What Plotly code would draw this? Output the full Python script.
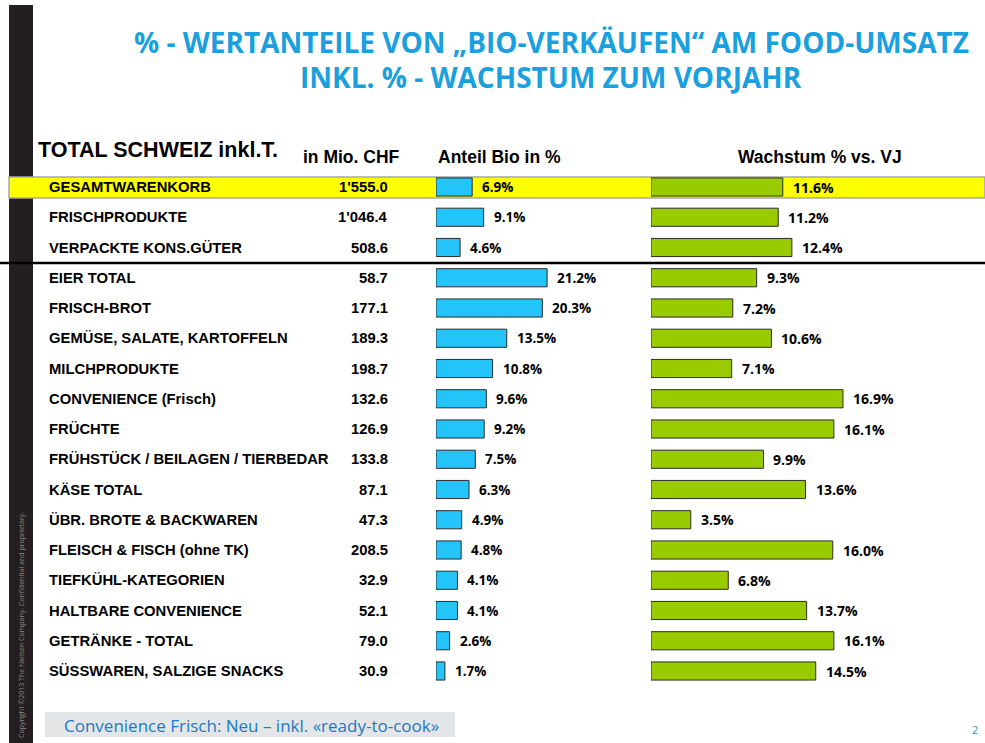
import plotly.graph_objects as go

W, H = 985, 743

categories = [
    "GESAMTWARENKORB", "FRISCHPRODUKTE", "VERPACKTE KONS.GÜTER",
    "EIER TOTAL", "FRISCH-BROT", "GEMÜSE, SALATE, KARTOFFELN", "MILCHPRODUKTE",
    "CONVENIENCE (Frisch)", "FRÜCHTE", "FRÜHSTÜCK / BEILAGEN / TIERBEDAR",
    "KÄSE TOTAL", "ÜBR. BROTE & BACKWAREN", "FLEISCH & FISCH (ohne TK)",
    "TIEFKÜHL-KATEGORIEN", "HALTBARE CONVENIENCE", "GETRÄNKE - TOTAL",
    "SÜSSWAREN, SALZIGE SNACKS",
]
umsatz_mio_chf = ["1'555.0", "1'046.4", "508.6", "58.7", "177.1", "189.3", "198.7",
                  "132.6", "126.9", "133.8", "87.1", "47.3", "208.5", "32.9", "52.1",
                  "79.0", "30.9"]
anteil_bio = [6.9, 9.1, 4.6, 21.2, 20.3, 13.5, 10.8, 9.6, 9.2, 7.5, 6.3, 4.9, 4.8,
              4.1, 4.1, 2.6, 1.7]
wachstum = [11.6, 11.2, 12.4, 9.3, 7.2, 10.6, 7.1, 16.9, 16.1, 9.9, 13.6, 3.5, 16.0,
            6.8, 13.7, 16.1, 14.5]

title_lines = ["% - WERTANTEILE VON „BIO-VERKÄUFEN“ AM FOOD-UMSATZ",
               "INKL. % - WACHSTUM ZUM VORJAHR"]


def X(px):
    return px / W


def Y(py):
    return 1 - py / H


n = len(categories)
row_top, row_bot = 187, 671
step = (row_bot - row_top) / (n - 1)
y_dom = [Y(row_bot + step / 2), Y(row_top - step / 2)]

fig = go.Figure()

fig.add_trace(go.Bar(
    x=anteil_bio, y=categories, orientation="h", xaxis="x", yaxis="y",
    marker=dict(color="#22c4fa", line=dict(color="#2b2b2b", width=1)),
    width=0.6, hoverinfo="skip", showlegend=False,
))
fig.add_trace(go.Bar(
    x=wachstum, y=categories, orientation="h", xaxis="x2", yaxis="y2",
    marker=dict(color="#99cc00", line=dict(color="#2b2b2b", width=1)),
    width=0.6, hoverinfo="skip", showlegend=False,
))

yax = dict(type="category", categoryorder="array", categoryarray=categories,
           range=[n - 0.5, -0.5], domain=y_dom, showticklabels=False,
           showgrid=False, zeroline=False, fixedrange=True)
fig.update_layout(
    width=W, height=H, margin=dict(l=0, r=0, t=0, b=0),
    paper_bgcolor="white", plot_bgcolor="rgba(0,0,0,0)",
    xaxis=dict(domain=[X(436), X(436 + 25 * 5.24)], range=[0, 25], visible=False),
    xaxis2=dict(domain=[X(651), X(651 + 25 * 11.36)], range=[0, 25], visible=False),
    yaxis=yax,
    yaxis2=dict(yax, anchor="x2", overlaying="y"),
)

shapes = [
    dict(type="rect", xref="paper", yref="paper", x0=X(9), x1=X(33), y0=Y(743), y1=Y(5),
         fillcolor="#231f20", line=dict(width=0), layer="below"),
    dict(type="rect", xref="paper", yref="paper", x0=X(9), x1=X(985), y0=Y(198), y1=Y(177),
         fillcolor="#ffff00", line=dict(color="#a6a6a6", width=1.5), layer="below"),
    dict(type="line", xref="paper", yref="paper", x0=0, x1=1, y0=Y(263), y1=Y(263),
         line=dict(color="#000000", width=2.5)),
    dict(type="rect", xref="paper", yref="paper", x0=X(45), x1=X(455), y0=Y(737), y1=Y(712),
         fillcolor="#e4e5e6", line=dict(width=0), layer="below"),
]

ann = []
for i, line in enumerate(title_lines):
    ann.append(dict(text=line, xref="paper", yref="paper", x=X(551), y=Y(42 + 35 * i),
                    xanchor="center", yanchor="middle", showarrow=False,
                    font=dict(family="Open Sans", size=28, color="#1aa0de", weight="bold")))

hdr_font = dict(family="Liberation Sans", size=17.5, color="#000000", weight="bold")
ann.append(dict(text="TOTAL SCHWEIZ inkl.T.", xref="paper", yref="paper", x=X(36), y=Y(150),
                xanchor="left", yanchor="middle", showarrow=False,
                font=dict(family="Liberation Sans", size=21.5, color="#000000", weight="bold")))
ann.append(dict(text="in Mio. CHF", xref="paper", yref="paper", x=X(351), y=Y(157),
                xanchor="center", yanchor="middle", showarrow=False, font=hdr_font))
ann.append(dict(text="Anteil Bio in %", xref="paper", yref="paper", x=X(500), y=Y(157),
                xanchor="center", yanchor="middle", showarrow=False, font=hdr_font))
ann.append(dict(text="Wachstum % vs. VJ", xref="paper", yref="paper", x=X(820), y=Y(157),
                xanchor="center", yanchor="middle", showarrow=False, font=hdr_font))

cat_font = dict(family="Liberation Sans", size=14.8, color="#000000", weight="bold")
val_font = dict(family="Open Sans", size=13.5, color="#000000", weight="bold")
for c, u, a, g in zip(categories, umsatz_mio_chf, anteil_bio, wachstum):
    ann.append(dict(text=c, xref="paper", yref="y", x=X(47), y=c, xanchor="left",
                    yanchor="middle", showarrow=False, font=cat_font))
    ann.append(dict(text=u, xref="paper", yref="y", x=X(390), y=c, xanchor="right",
                    yanchor="middle", showarrow=False, font=cat_font))
    ann.append(dict(text=f"{a:.1f}%", xref="x", yref="y", x=a, y=c, xanchor="left",
                    yanchor="middle", xshift=8, showarrow=False, font=val_font))
    ann.append(dict(text=f"{g:.1f}%", xref="x2", yref="y2", x=g, y=c, xanchor="left",
                    yanchor="middle", xshift=8, showarrow=False,
                    font=dict(val_font, size=14)))

ann.append(dict(text="Convenience Frisch: Neu – inkl. «ready-to-cook»", xref="paper",
                yref="paper", x=X(251), y=Y(725), xanchor="center", yanchor="middle",
                showarrow=False, font=dict(family="Open Sans", size=17, color="#1a7ac4")))
ann.append(dict(text="2", xref="paper", yref="paper", x=X(975), y=Y(729),
                xanchor="center", yanchor="middle", showarrow=False,
                font=dict(family="Open Sans", size=11, color="#1a9ad6")))
ann.append(dict(text="Copyright ©2013 The Nielsen Company. Confidential and proprietary.",
                xref="paper", yref="paper", x=X(21), y=Y(625), xanchor="center",
                yanchor="middle", textangle=-90, showarrow=False,
                font=dict(family="Open Sans", size=7, color="#8a8a8a")))

fig.update_layout(shapes=shapes, annotations=ann)
fig.write_html(
    "out.html",
    config={"displayModeBar": False},
    post_script="document.body.style.margin='0';document.body.style.overflow='hidden';",
)
